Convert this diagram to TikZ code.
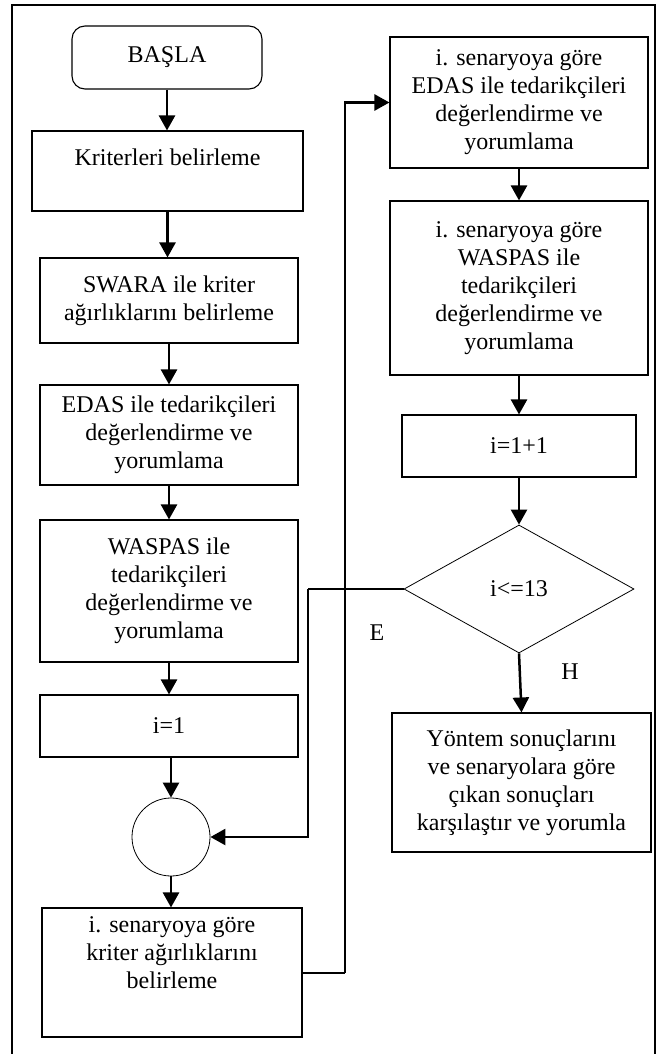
\documentclass[tikz,border=0pt]{standalone}
\usepackage{fontspec}
\setmainfont{Liberation Serif}
\usetikzlibrary{arrows.meta,shapes.geometric}
\tikzset{
  box/.style={draw, line width=1.1pt, rectangle, align=center, inner sep=0pt,
    font=\fontsize{24}{28}\selectfont},
  startbox/.style={box, rounded corners=13pt},
  circbox/.style={draw, line width=0.8pt, circle, inner sep=0pt, minimum size=78pt},
  decbox/.style={draw, line width=0.8pt, diamond, inner sep=0pt, align=center,
    font=\fontsize{24}{28}\selectfont},
  lbl/.style={inner sep=0pt, font=\fontsize{24}{28}\selectfont},
  arr/.style={line width=2.5pt, -{Triangle[width=16pt,length=15pt]}},
  lin/.style={line width=2.5pt},
  frame/.style={line width=2pt}
}
\begin{document}
\begin{tikzpicture}[x=1pt,y=-1pt]
\useasboundingbox (0,0) rectangle (660,1054);
\draw[frame] (12,1060) -- (12,5) -- (655,5) -- (655,1060);

\node[startbox, minimum width=190pt, minimum height=63pt] (start) at (167,57.5) {BAŞLA};
\node[box, minimum width=271pt, minimum height=80pt] (b1) at (167.5,171) {Kriterleri belirleme\\ ~};
\node[box, minimum width=258pt, minimum height=85pt] (b2) at (169,300.5) {SWARA ile kriter\\ağırlıklarını belirleme};
\node[box, minimum width=258pt, minimum height=100pt] (b3) at (169,435) {EDAS ile tedarikçileri\\değerlendirme ve\\yorumlama};
\node[box, minimum width=258pt, minimum height=142pt] (b4) at (169,591) {WASPAS ile\\tedarikçileri\\değerlendirme ve\\yorumlama};
\node[box, minimum width=258pt, minimum height=62pt] (b5) at (169,726) {i=1};
\node[circbox] (circ) at (171,837) {};
\node[box, minimum width=260pt, minimum height=129pt] (b6) at (172,972.5) {i. senaryoya göre\\kriter ağırlıklarını\\belirleme\\[12pt] ~};

\node[box, minimum width=258pt, minimum height=131pt] (r1) at (519,102.5) {i. senaryoya göre\\EDAS ile tedarikçileri\\değerlendirme ve\\yorumlama};
\node[box, minimum width=258pt, minimum height=174pt] (r2) at (519,288) {i. senaryoya göre\\WASPAS ile\\tedarikçileri\\değerlendirme ve\\yorumlama};
\node[box, minimum width=234pt, minimum height=62pt] (r3) at (519,446) {i=1+1};
\node[decbox, minimum width=230pt, minimum height=128pt] (dia) at (519,589) {i<=13};
\node[box, minimum width=259pt, minimum height=139pt] (fin) at (521.5,782.5) {Yöntem sonuçlarını\\ve senaryolara göre\\çıkan sonuçları\\karşılaştır ve yorumla};

\node[lbl] (le) at (377,633) {E};
\node[lbl] (lh) at (570,672) {H};

\coordinate (j1) at (345,973);
\coordinate (j2) at (308,589);

\draw[arr] (start.south) -- (start.south |- b1.north);
\draw[arr] (b1.south) -- (b1.south |- b2.north);
\draw[arr] (b2.south) -- (b3.north);
\draw[arr] (b3.south) -- (b4.north);
\draw[arr] (b4.south) -- (b5.north);
\draw[arr] (circ.north |- b5.south) -- (circ.north);
\draw[arr] (circ.south) -- (circ.south |- b6.north);
\draw[lin] (b6.east |- j1) -- (j1);
\draw[arr] (j1) |- (r1.west);
\draw[arr] (r1.south) -- (r2.north);
\draw[arr] (r2.south) -- (r3.north);
\draw[arr] (r3.south) -- (dia.north);
\draw[lin] (dia.west) -- (j2);
\draw[arr] (j2) |- (circ.east);
\draw[arr] (dia.south) -- (fin.north);
\end{tikzpicture}
\end{document}
